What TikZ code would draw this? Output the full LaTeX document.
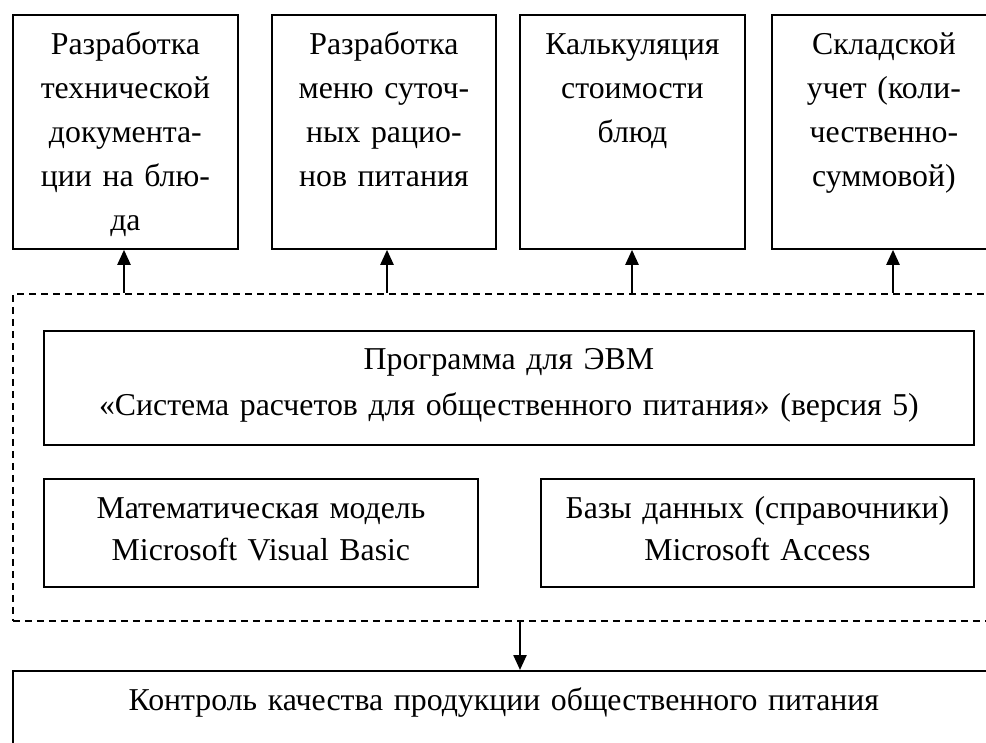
\documentclass[tikz,border=0pt]{standalone}
\usepackage{fontspec}
\setmainfont{Liberation Serif}
\usetikzlibrary{arrows.meta}
\begin{document}
\begin{tikzpicture}[x=1pt,y=1pt,
  box/.style={draw, line width=1.8pt, rectangle, inner sep=0pt, anchor=north west},
  dframe/.style={draw, line width=1.6pt, dash pattern=on 7pt off 5pt, rectangle, inner sep=0pt, anchor=north west},
  txt/.style={anchor=base, inner sep=0pt, align=center, font=\fontsize{31.8}{44}\selectfont},
  arr/.style={line width=2.4pt, -{Triangle[width=13pt,length=15pt]}}]
\clip (0,0) rectangle (986,-743);
% top boxes
\node[box, minimum width=225, minimum height=234] (b1) at (12,-14) {};
\node[box, minimum width=224, minimum height=234] (b2) at (271,-14) {};
\node[box, minimum width=225, minimum height=234] (b3) at (519,-14) {};
\node[box, minimum width=260, minimum height=234] (b4) at (771,-14) {};
\node[txt, text width=220] (t1) at ([yshift=-41pt]b1.north) {Разработка\\технической\\документа-\\ции на блю-\\да};
\node[txt, text width=220] (t2) at ([yshift=-41pt]b2.north) {Разработка\\меню суточ-\\ных рацио-\\нов питания};
\node[txt, text width=220] (t3) at ([yshift=-41pt]b3.north) {Калькуляция\\стоимости\\блюд};
\node[txt, text width=220] (t4) at ([xshift=-18pt,yshift=-41pt]b4.north) {Складской\\учет (коли-\\чественно-\\суммовой)};
% dashed frame
\node[dframe, minimum width=1000, minimum height=327] (fr) at (12,-293) {};
% inner boxes
\node[box, minimum width=930, minimum height=114] (prog) at (43,-330) {};
\node[txt, text width=920, font=\fontsize{31.8}{46}\selectfont] (tp) at ([yshift=-40pt]prog.north) {Программа для ЭВМ\\«Система расчетов для общественного питания» (версия 5)};
\node[box, minimum width=434, minimum height=108] (mm) at (43,-478) {};
\node[txt, text width=430, font=\fontsize{31.8}{42}\selectfont] (tm) at ([yshift=-40pt]mm.north) {Математическая модель\\Microsoft Visual Basic};
\node[box, minimum width=433, minimum height=108] (db) at (540,-478) {};
\node[txt, text width=430, font=\fontsize{31.8}{42}\selectfont] (td) at ([yshift=-40pt]db.north) {Базы данных (справочники)\\Microsoft Access};
% bottom box
\node[box, minimum width=982, minimum height=100] (ctrl) at (12,-670) {};
\node[txt, text width=970] (tc) at ([yshift=-40pt]ctrl.north) {Контроль качества продукции общественного питания};
% arrows
\coordinate (a1) at (124,0);
\coordinate (a2) at (387,0);
\coordinate (a3) at (632,0);
\coordinate (a4) at (893,0);
\coordinate (a5) at (520,0);
\draw[arr] (a1 |- fr.north) -- (a1 |- b1.south);
\draw[arr] (a2 |- fr.north) -- (a2 |- b2.south);
\draw[arr] (a3 |- fr.north) -- (a3 |- b3.south);
\draw[arr] (a4 |- fr.north) -- (a4 |- b4.south);
\draw[arr] (a5 |- fr.south) -- (a5 |- ctrl.north);
\end{tikzpicture}
\end{document}
